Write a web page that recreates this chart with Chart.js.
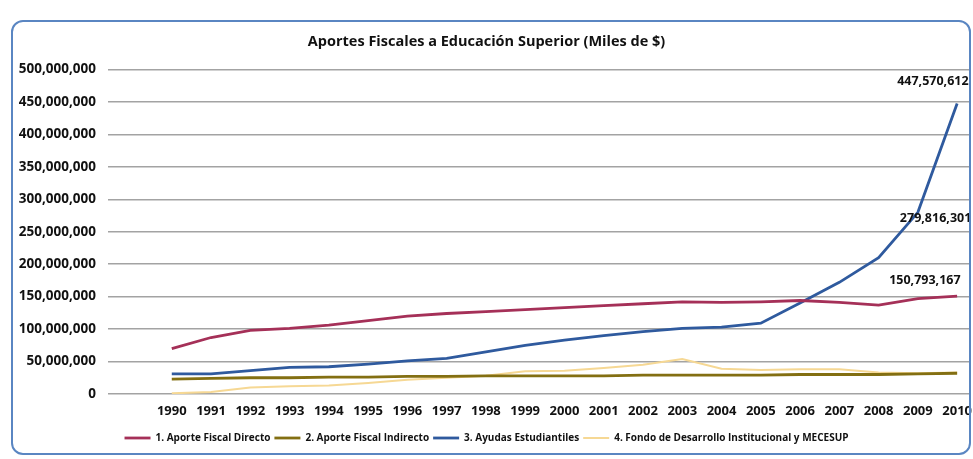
<!DOCTYPE html>
<html>
<head>
<meta charset="utf-8">
<script src="https://cdn.jsdelivr.net/npm/chart.js@4.4.1/dist/chart.umd.min.js"></script>
<style>
  html, body { margin: 0; padding: 0; background: #fff; }
  #wrap { position: relative; width: 973px; height: 459px; overflow: hidden; }
  #frame {
    position: absolute; left: 11px; top: 20px; width: 956px; height: 431px;
    border: 2px solid #5a86c2; border-radius: 12px; pointer-events: none;
  }
</style>
</head>
<body>
<div id="wrap">
  <canvas id="chart" width="973" height="459"></canvas>
  <div id="frame"></div>
</div>
<script>
const years = [1990, 1991, 1992, 1993, 1994, 1995, 1996, 1997, 1998, 1999, 2000,
  2001, 2002, 2003, 2004, 2005, 2006, 2007, 2008, 2009, 2010];

// Miles de $
const aporteDirecto = [70000000, 87000000, 98000000, 101000000, 106000000, 113000000, 120000000,
  124000000, 127000000, 130000000, 133000000, 136000000, 139000000, 142000000, 141000000,
  142000000, 144000000, 141000000, 137000000, 147000000, 150793167];
const aporteIndirecto = [23000000, 24000000, 25000000, 25000000, 26000000, 26000000, 27000000,
  27000000, 28000000, 28000000, 28000000, 28000000, 29000000, 29000000, 29000000, 29000000,
  30000000, 30000000, 30000000, 31000000, 32000000];
const ayudas = [31000000, 31000000, 36000000, 41000000, 42000000, 46000000, 51000000, 55000000,
  65000000, 75000000, 83000000, 90000000, 96000000, 101000000, 103000000, 109000000, 140000000,
  172000000, 210000000, 279816301, 447570612];
const fondoMecesup = [1000000, 3000000, 10000000, 12000000, 13000000, 17000000, 22000000,
  25000000, 28000000, 35000000, 36000000, 40000000, 45000000, 54000000, 39000000, 37000000,
  38000000, 38000000, 33000000, 32000000, 33000000];

const seriesNames = ["1. Aporte Fiscal Directo", "2. Aporte Fiscal Indirecto",
  "3. Ayudas Estudiantiles", "4. Fondo de Desarrollo Institucional y MECESUP"];
const yTicks = [0, 50000000, 100000000, 150000000, 200000000, 250000000, 300000000,
  350000000, 400000000, 450000000, 500000000];

const fmt = (v) => Math.round(v).toLocaleString("en-US");
const pts = (arr) => years.map((yr, i) => ({ x: yr, y: arr[i] }));

// data labels: [dataset, point index, dx, dy]
const valueLabels = [
  [2, 20, -60, -22],
  [2, 19, -18, 6],
  [0, 20, -68, -16],
];

const labelPlugin = {
  id: "valueLabels",
  afterDatasetsDraw(chart) {
    const ctx = chart.ctx;
    ctx.save();
    ctx.font = "bold 12.5px 'Open Sans'";
    ctx.fillStyle = "#111";
    ctx.textAlign = "left";
    ctx.textBaseline = "middle";
    valueLabels.forEach(([ds, idx, dx, dy]) => {
      const p = chart.getDatasetMeta(ds).data[idx];
      const v = chart.data.datasets[ds].data[idx].y;
      ctx.fillText(fmt(v), p.x + dx, p.y + dy);
    });
    ctx.restore();
  },
};

const colors = ["#a53058", "#836f12", "#2f5a9e", "#f6d894"];
const datasets = [aporteDirecto, aporteIndirecto, ayudas, fondoMecesup].map((arr, i) => ({
  label: seriesNames[i],
  data: pts(arr),
  borderColor: colors[i],
  backgroundColor: colors[i],
  borderWidth: i === 3 ? 2 : 2.8,
  pointRadius: 0,
  tension: 0,
}));

new Chart(document.getElementById("chart"), {
  type: "line",
  data: { datasets },
  plugins: [labelPlugin],
  options: {
    responsive: false,
    animation: false,
    layout: { padding: { top: 19, right: 0, bottom: 6, left: 0 } },
    plugins: {
      title: {
        display: true,
        text: "Aportes Fiscales a Educación Superior (Miles de $)",
        color: "#111",
        font: { family: "'Open Sans'", size: 14.5, weight: "bold" },
        padding: { top: 14, bottom: 19 },
      },
      legend: {
        position: "bottom",
        labels: {
          usePointStyle: true,
          pointStyle: "line",
          pointStyleWidth: 26,
          padding: 4,
          color: "#111",
          font: { family: "'Open Sans'", size: 10, weight: "bold" },
        },
      },
      tooltip: { enabled: false },
    },
    scales: {
      x: {
        type: "linear",
        min: 1988.376,
        max: 2010.33,
        grid: { display: false },
        border: { display: false },
        afterBuildTicks: (scale) => { scale.ticks = years.map((v) => ({ value: v })); },
        afterFit: (scale) => { scale.height = 35; },
        ticks: {
          padding: 1,
          autoSkip: false,
          maxRotation: 0,
          color: "#111",
          font: { family: "'Open Sans'", size: 13, weight: "bold" },
          callback: (v) => String(v),
        },
      },
      y: {
        min: 0,
        max: 500000000,
        afterBuildTicks: (scale) => { scale.ticks = yTicks.map((v) => ({ value: v })); },
        afterFit: (scale) => { scale.width = 108; },
        grid: { color: "#a3a3a3", lineWidth: 1.4, drawTicks: false },
        border: { display: false },
        ticks: {
          padding: 12,
          color: "#111",
          font: { family: "'Open Sans'", size: 13.5, weight: "bold" },
          callback: (v) => fmt(v),
        },
      },
    },
  },
});
</script>
</body>
</html>
